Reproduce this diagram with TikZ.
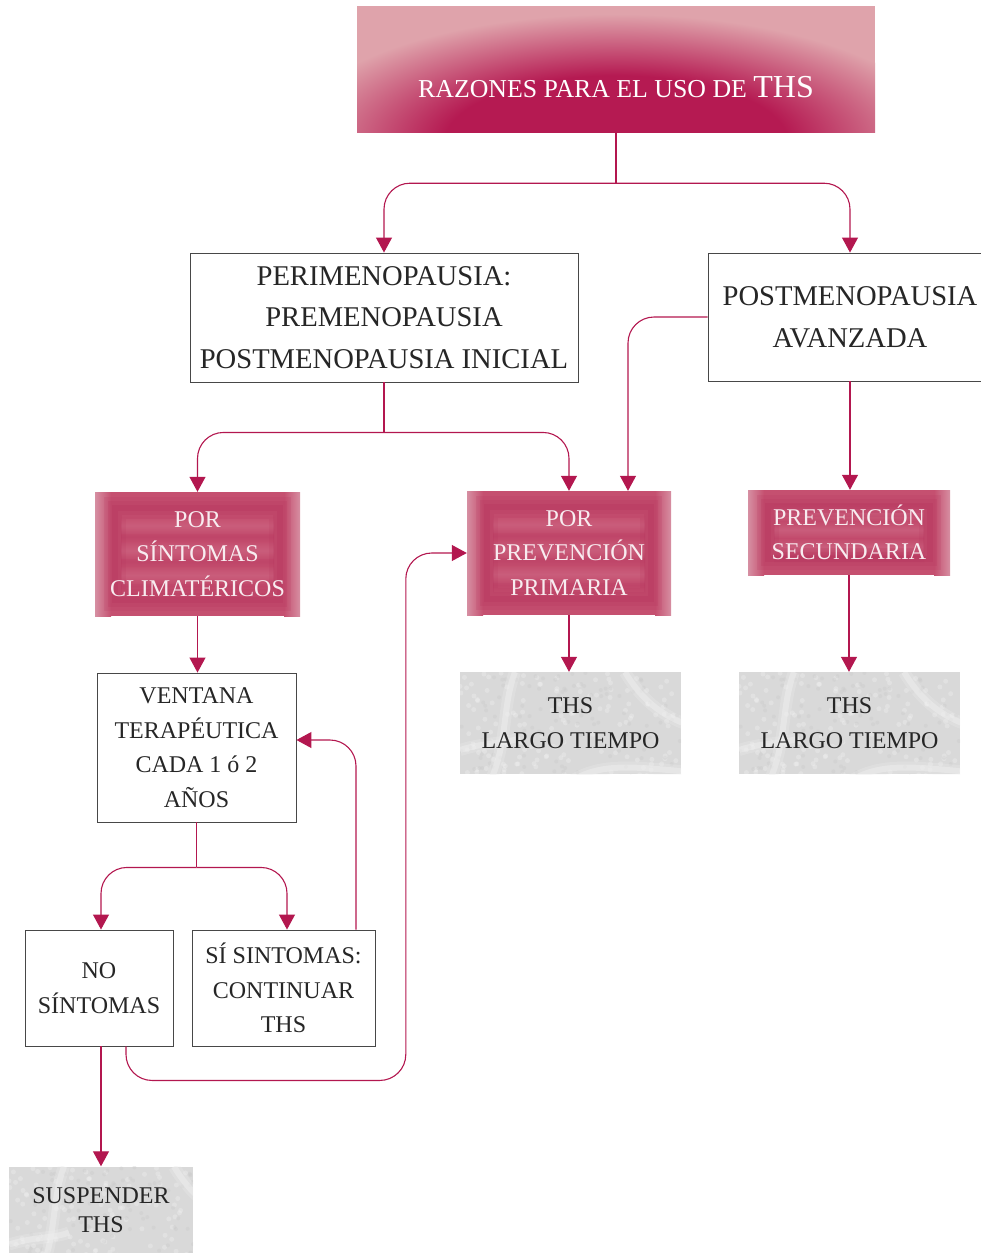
\documentclass[tikz,border=0pt]{standalone}
\usepackage{fontspec}
\setmainfont{Liberation Serif}
\usetikzlibrary{arrows.meta,calc}

\definecolor{magdark}{HTML}{B51A52}
\definecolor{pinklight}{HTML}{DFA3AB}
\definecolor{wire}{HTML}{B3174F}
\definecolor{magbase}{HTML}{C55070}
\definecolor{magrim}{HTML}{B5325C}
\definecolor{magedge}{HTML}{D68FA2}
\definecolor{magstripe}{HTML}{CD6683}
\definecolor{magtext}{HTML}{F8ECF0}
\definecolor{greybase}{HTML}{D9D9D9}
\definecolor{greyvein}{HTML}{F0F0F0}
\definecolor{greydark}{HTML}{C8C8C8}
\definecolor{inkgrey}{HTML}{262626}

\pgfdeclareradialshading{titleglow}{\pgfpoint{0bp}{0bp}}{color(0bp)=(magdark); color(13bp)=(magdark); color(25bp)=(pinklight); color(50bp)=(pinklight)}

\tikzset{
  stem/.style={draw=wire, line width=1.1pt},
  wire/.style={draw=wire, line width=1.1pt, rounded corners=26pt,
    -{Triangle[width=16pt,length=15pt]}},
  wbox/.style={draw=inkgrey!85, line width=0.9pt, fill=white, text=inkgrey,
    align=center, inner sep=0pt, font=\fontsize{24}{34.5}\selectfont},
  bigtext/.style={font=\fontsize{28.6}{41.5}\selectfont},
  magbox/.style={align=center, inner sep=0pt, text=magtext,
    font=\fontsize{24}{34.5}\selectfont,
    path picture={
      \coordinate (pnw) at (path picture bounding box.north west);
      \coordinate (pse) at (path picture bounding box.south east);
      \coordinate (psw) at (path picture bounding box.south west);
      \coordinate (pne) at (path picture bounding box.north east);
      \fill[magbase] (pnw) rectangle (pse);
      % pale side edges
      \shade[left color=magedge, right color=magbase] (pnw) rectangle ($(psw)+(16,0)$);
      \shade[left color=magbase, right color=magedge] ($(pne)+(-16,0)$) rectangle (pse);
      % soft horizontal banding
      \foreach \f in {0.36,0.56,0.76}{
        \shade[top color=magbase, bottom color=magbase, middle color=magrim, opacity=0.35]
          ($(pnw)!\f!(psw)+(26,-8)$) rectangle ($(pne)!\f!(pse)+(-26,8)$);
      }
      \foreach \f in {0.27,0.47,0.67}{
        \shade[top color=magbase, bottom color=magbase, middle color=magstripe, opacity=0.6]
          ($(pnw)!\f!(psw)+(26,-8)$) rectangle ($(pne)!\f!(pse)+(-26,8)$);
      }
      % blurred inner frame
      \draw[magrim, line width=22pt, opacity=0.15] ($(pnw)+(20,16)$) rectangle ($(pse)+(-20,-16)$);
      \draw[magrim, line width=14pt, opacity=0.2] ($(pnw)+(20,16)$) rectangle ($(pse)+(-20,-16)$);
      \draw[magrim, line width=6pt, opacity=0.25] ($(pnw)+(20,16)$) rectangle ($(pse)+(-20,-16)$);
    }},
  greybox/.style={align=center, inner sep=0pt, text=inkgrey,
    font=\fontsize{24}{34.5}\selectfont,
    path picture={
      \coordinate (g) at (path picture bounding box.north west);
      \coordinate (gse) at (path picture bounding box.south east);
      \fill[greybase] (g) rectangle (gse);
      % mottled grain
      \pgfmathsetseed{7}
      \foreach \i in {1,...,160}{
        \pgfmathsetmacro\rx{rnd*230}
        \pgfmathsetmacro\ry{rnd*110}
        \fill[white, opacity=0.22] ($(g)+(\rx,\ry)$) circle (2.5pt);
      }
      \foreach \i in {1,...,110}{
        \pgfmathsetmacro\rx{rnd*230}
        \pgfmathsetmacro\ry{rnd*110}
        \fill[greydark, opacity=0.35] ($(g)+(\rx,\ry)$) circle (2pt);
      }
      % pale veins
      \foreach \w/\o in {12/0.25, 6/0.45}{
        \draw[greyvein, line width=\w pt, opacity=\o] ($(g)+(55,0)$) .. controls ($(g)+(42,35)$) and ($(g)+(48,70)$) .. ($(g)+(30,110)$);
        \draw[greyvein, line width=\w pt, opacity=\o] ($(g)+(0,78)$) .. controls ($(g)+(25,70)$) and ($(g)+(45,72)$) .. ($(g)+(60,66)$);
        \draw[greyvein, line width=\w pt, opacity=\o] ($(g)+(165,0)$) .. controls ($(g)+(180,25)$) and ($(g)+(200,45)$) .. ($(g)+(235,55)$);
        \draw[greyvein, line width=\w pt, opacity=\o] ($(g)+(110,110)$) .. controls ($(g)+(140,90)$) and ($(g)+(175,95)$) .. ($(g)+(230,100)$);
      }
    }},
}

\begin{document}
\begin{tikzpicture}[x=1pt,y=-1pt]
\useasboundingbox (0,0) rectangle (981,1253);
\begin{scope}
\clip (0,0) rectangle (981,1253);

% heading panel with its glow
\node[minimum width=518, minimum height=126, inner sep=0pt, text=white,
  path picture={
    \fill[pinklight] (path picture bounding box.north west) rectangle (path picture bounding box.south east);
    \shade[shading=titleglow] ($(path picture bounding box.south)+(0,10)$) ellipse [x radius=330pt, y radius=128pt];
  }] (title) at (616,69)
  {\raisebox{-28pt}[0pt][0pt]{\fontsize{25.8}{30}\selectfont RAZONES PARA EL USO DE \fontsize{32}{30}\selectfont THS}};

% first level
\node[wbox, bigtext, minimum width=388, minimum height=129] (peri) at (384,317.5)
  {PERIMENOPAUSIA:\\PREMENOPAUSIA\\POSTMENOPAUSIA INICIAL};
\node[wbox, bigtext, minimum width=284, minimum height=128] (post) at (850,317)
  {POSTMENOPAUSIA\\AVANZADA};

% reasons
\node[magbox, minimum width=205, minimum height=124] (sint) at (197.5,554)
  {POR\\SÍNTOMAS\\CLIMATÉRICOS};
\node[magbox, minimum width=204, minimum height=124] (prim) at (569,553)
  {POR\\PREVENCIÓN\\PRIMARIA};
\node[magbox, minimum width=202, minimum height=85] (sec) at (849,532.5)
  {PREVENCIÓN\\SECUNDARIA};

% outcomes
\node[greybox, minimum width=221, minimum height=102] (long1) at (570.5,723)
  {THS\\LARGO TIEMPO};
\node[greybox, minimum width=221, minimum height=102] (long2) at (849.5,723)
  {THS\\LARGO TIEMPO};

\node[wbox, minimum width=199, minimum height=149] (vent) at (196.5,747.5)
  {VENTANA\\TERAPÉUTICA\\CADA 1 ó 2\\AÑOS};
\node[wbox, minimum width=148, minimum height=116] (no) at (99,988)
  {NO\\SÍNTOMAS};
\node[wbox, minimum width=183, minimum height=116] (si) at (283.5,988)
  {SÍ SINTOMAS:\\CONTINUAR\\THS};
\node[greybox, minimum width=184, minimum height=87, font=\fontsize{24}{29}\selectfont] (susp) at (101,1210)
  {SUSPENDER\\THS};

% connectors
\draw[stem] (title.south) -- ++(0,51) coordinate (split1);
\draw[wire] (split1) -| (peri.north);
\draw[wire] (split1) -| (post.north);
\draw[stem] (peri.south) -- ++(0,50) coordinate (split2);
\draw[wire] (split2) -| (sint.north);
\draw[wire] (split2) -| (prim.north);
\draw[wire] (post.west) -| ([xshift=59pt]prim.north);
\draw[wire] (post.south) -- (post.south |- sec.north);
\draw[wire] (sint.south) -- (sint.south |- vent.north);
\draw[wire] (prim.south) -- (long1.north -| prim.south);
\draw[wire] (sec.south) -- (long2.north -| sec.south);
\draw[stem] (vent.south) -- ++(0,45) coordinate (split3);
\draw[wire] (split3) -| ([xshift=2pt]no.north);
\draw[wire] (split3) -| ([xshift=3.5pt]si.north);
\draw[wire] ([xshift=72.5pt]si.north) |- ([yshift=7.5pt]vent.east);
\draw[wire] ([xshift=27pt]no.south) -- ++(0,34) -| ([xshift=-61pt]prim.west) -- (prim.west);
\draw[wire] ([xshift=2pt]no.south) -- (susp.north);
\end{scope}
\end{tikzpicture}
\end{document}
